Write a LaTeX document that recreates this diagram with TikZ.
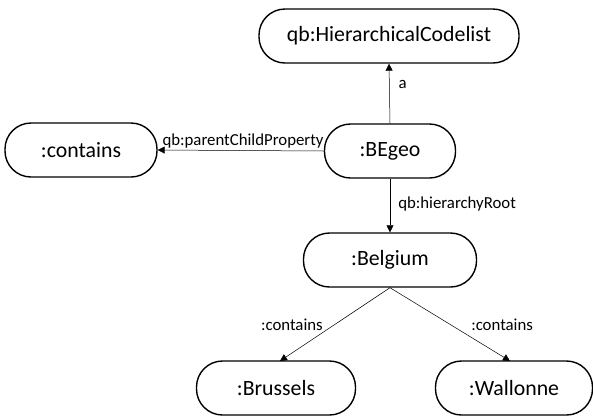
\documentclass[tikz,border=0pt]{standalone}
\usepackage{fontspec}
\setmainfont{Carlito}
\usetikzlibrary{arrows.meta}
\begin{document}
\begin{tikzpicture}[x=1pt,y=-1pt,
  term/.style={draw, line width=1.4pt, rounded corners=26pt, minimum height=54pt,
    inner sep=0pt, font=\fontsize{21.8}{25}\selectfont},
  rel/.style={draw, line width=0.5pt, -{Triangle[length=7pt,width=7pt]}},
  lbl/.style={font=\fontsize{16.8}{19}\selectfont, inner sep=1pt}]
\useasboundingbox (0,0) rectangle (593,416);
\clip (0,0) rectangle (593,416);
\fill[white] (0,0) rectangle (593,416);

\node[term, minimum width=260pt] (hcl) at (389,36) {qb:HierarchicalCodelist};
\node[term, minimum width=152pt] (cont) at (81,150) {:contains};
\node[term, minimum width=131pt] (begeo) at (390,151) {:BEgeo};
\node[term, minimum width=173pt] (bel) at (390,260) {:Belgium};
\node[term, minimum width=159pt] (bru) at (276,388) {:Brussels};
\node[term, minimum width=157pt] (wal) at (514,388) {:Wallonne};

\draw[rel] (begeo.north) -- (hcl.south) node[lbl, pos=0.65, anchor=west, xshift=8pt] {a};
\draw[rel] (begeo.west) -- (cont.east) node[lbl, pos=0, anchor=south east, xshift=1pt, yshift=2pt] {qb:parentChildProperty};
\draw[rel] (begeo.south) -- (bel.north) node[lbl, pos=0.47, anchor=west, xshift=7pt] {qb:hierarchyRoot};
\coordinate (bruin) at (280,361);
\coordinate (walin) at (510,361);
\draw[rel] (bel.south) -- (bruin) node[lbl, pos=0.5, anchor=east, xshift=-11pt] {:contains};
\draw[rel] (bel.south) -- (walin) node[lbl, pos=0.5, anchor=west, xshift=20pt] {:contains};
\end{tikzpicture}
\end{document}
